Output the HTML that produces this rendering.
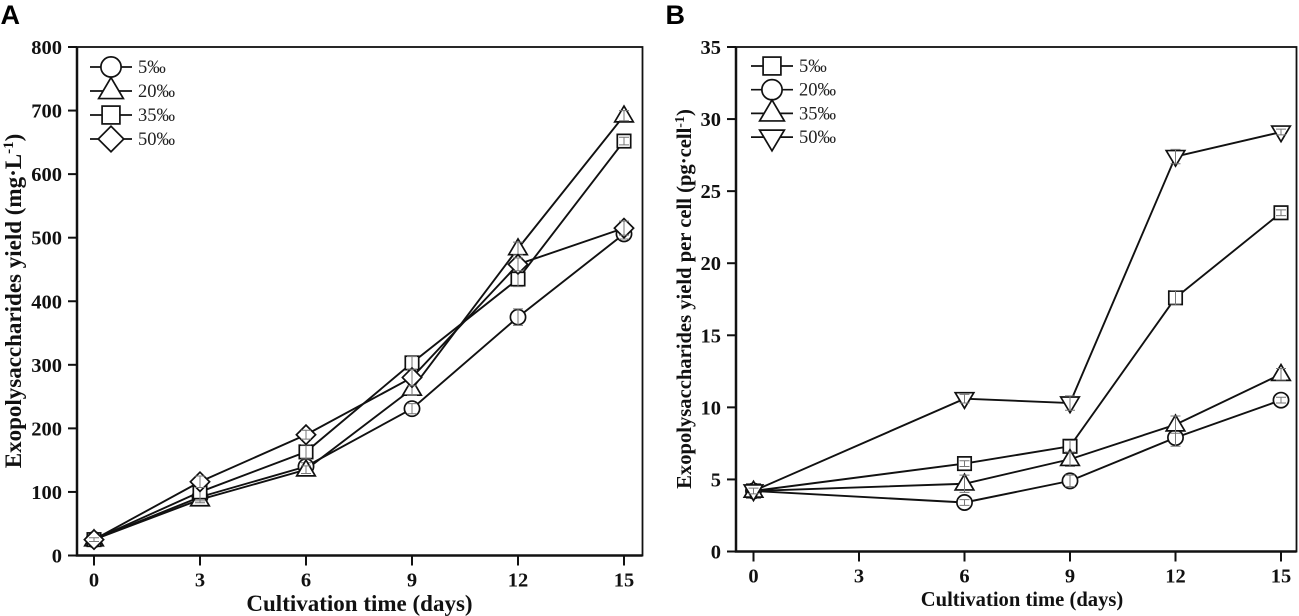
<!DOCTYPE html>
<html>
<head>
<meta charset="utf-8">
<title>Exopolysaccharides yield charts</title>
<style>
html,body{margin:0;padding:0;background:#fff;width:1299px;height:616px;overflow:hidden}
svg{display:block}
text{font-family:"Liberation Serif",serif;fill:#111}
.tick{font-size:20.5px;font-weight:bold}
.title{font-size:23px;font-weight:bold}
.titleb{font-size:20.6px;font-weight:bold}
.leg{font-size:18.5px;fill:#222}
.letter{font-family:"Liberation Sans",sans-serif;font-size:27px;font-weight:bold;fill:#000}
</style>
</head>
<body>
<svg id="fig" width="1299" height="616" viewBox="0 0 1299 616" xmlns="http://www.w3.org/2000/svg">
<text class="letter" x="0.5" y="24">A</text>
<text class="letter" x="665.5" y="24">B</text>
<text class="title" x="359.5" y="611" text-anchor="middle">Cultivation time (days)</text>
<text class="title" transform="translate(21,301) rotate(-90)" text-anchor="middle">Exopolysaccharides yield (mg·L<tspan dy="-8" font-size="15">-1</tspan><tspan dy="8">)</tspan></text>
<text class="titleb" x="1022" y="606" text-anchor="middle">Cultivation time (days)</text>
<text class="titleb" transform="translate(691,299) rotate(-90)" text-anchor="middle">Exopolysaccharides yield per cell (pg·cell<tspan dy="-7" font-size="14">-1</tspan><tspan dy="7">)</tspan></text>
</svg>
<script>
// Panel A data
const daysA = [0, 3, 6, 9, 12, 15];
const salinityA = ['5‰', '20‰', '35‰', '50‰'];
const a5 = [25, 92, 140, 231, 375, 506];
const a20 = [25, 88, 135, 262, 483, 692];
const a35 = [25, 100, 163, 303, 435, 652];
const a50 = [25, 116, 190, 280, 458, 515];
const a5err = [3, 6, 6, 8, 13, 8];
const a20err = [3, 5, 6, 10, 10, 8];
const a35err = [3, 14, 11, 10, 12, 6];
const a50err = [3, 9, 7, 13, 10, 11];
const yTicksA = [0, 100, 200, 300, 400, 500, 600, 700, 800];
const xTicks = [0, 3, 6, 9, 12, 15];
// Panel B data
const daysB = [0, 6, 9, 12, 15];
const salinityB = ['5‰', '20‰', '35‰', '50‰'];
const b5 = [4.2, 6.1, 7.3, 17.6, 23.5];
const b20 = [4.2, 3.4, 4.9, 7.9, 10.5];
const b35 = [4.2, 4.7, 6.4, 8.8, 12.3];
const b50 = [4.2, 10.6, 10.3, 27.4, 29.1];
const b5err = [0.2, 0.2, 0.4, 0.5, 0.2];
const b20err = [0.2, 0.2, 0.4, 0.6, 0.2];
const b35err = [0.2, 0.6, 0.5, 0.6, 0.4];
const b50err = [0.2, 0.3, 0.5, 0.5, 0.2];
const yTicksB = [0, 5, 10, 15, 20, 25, 30, 35];

const NS = 'http://www.w3.org/2000/svg';
const fig = document.getElementById('fig');

function mk(tag, attrs, parent) {
  const e = document.createElementNS(NS, tag);
  for (const k in attrs) e.setAttribute(k, attrs[k]);
  parent.appendChild(e);
  return e;
}

function marker(parent, kind, cx, cy, s) {
  const st = {fill: '#fff', stroke: '#111', 'stroke-width': 1.7, 'stroke-linejoin': 'miter'};
  let e;
  if (kind === 'circle') {
    e = mk('circle', Object.assign({cx: cx, cy: cy, r: 7.6 * s}, st), parent);
  } else if (kind === 'square') {
    const h = 6.7 * s;
    e = mk('rect', Object.assign({x: cx - h, y: cy - h, width: 2 * h, height: 2 * h}, st), parent);
  } else if (kind === 'triangle') {
    const w = 9.3 * s, u = 9.6 * s, d = 6.2 * s;
    e = mk('polygon', Object.assign({points: [cx, cy - u, cx + w, cy + d, cx - w, cy + d].join(' ')}, st), parent);
  } else if (kind === 'down') {
    const w = 9.3 * s, u = 9.6 * s, d = 6 * s;
    e = mk('polygon', Object.assign({points: [cx, cy + u, cx + w, cy - d, cx - w, cy - d].join(' ')}, st), parent);
  } else {
    const r = 9.6 * s;
    e = mk('polygon', Object.assign({points: [cx, cy - r, cx + r, cy, cx, cy + r, cx - r, cy].join(' ')}, st), parent);
  }
  return e;
}

function drawPanel(p) {
  const root = mk('g', {}, fig);
  
  
  const sx = function (v) { return p.x0 + (v / 15) * (p.x15 - p.x0); };
  const sy = function (v) { return p.yBase - (v / p.yMax) * (p.yBase - p.yTop); };

  const axes = mk('g', {stroke: '#111', 'stroke-width': 2, fill: 'none'}, root);
  
  
  const frame = mk('rect', {x: p.left, y: p.yTop, width: p.right - p.left, height: p.yBase - p.yTop, 'stroke-width': 1.8}, axes);
  
  
  const spine = mk('path', {d: 'M' + p.left + ' ' + p.yTop + 'V' + p.yBase + 'H' + p.right, 'stroke-width': 2.5}, axes);
  
  

  p.yTicks.forEach(function (t) {
    const ln = mk('line', {x1: p.left - 9, x2: p.left, y1: sy(t), y2: sy(t)}, axes);
    
    
    const tx = mk('text', {class: 'tick', x: p.left - 15, y: sy(t) + 7, 'text-anchor': 'end'}, root);
    
    
    tx.textContent = t;
  });
  xTicks.forEach(function (t) {
    const ln = mk('line', {x1: sx(t), x2: sx(t), y1: p.yBase, y2: p.yBase + 10}, axes);
    
    
    const tx = mk('text', {class: 'tick', x: sx(t), y: p.yBase + 31, 'text-anchor': 'middle'}, root);
    
    
    tx.textContent = t;
  });

  p.series.forEach(function (s, si) {
    const g = mk('g', {}, root);
    
    
    const pts = s.values.map(function (v, i) { return sx(p.days[i]) + ',' + sy(v); }).join(' ');
    const line = mk('polyline', {points: pts, fill: 'none', stroke: '#111', 'stroke-width': 1.9}, g);
    
    
  });
  p.series.forEach(function (s, si) {
    const g = mk('g', {}, root);
    
    
    s.values.forEach(function (v, i) {
      const cx = sx(p.days[i]), cy = sy(v);
      const m = marker(g, s.kind, cx, cy, 1);
      
      
      const hi = sy(v + s.err[i]), lo = sy(v - s.err[i]);
      const eb = mk('path', {d: 'M' + (cx - 5) + ' ' + hi + 'H' + (cx + 5) + 'M' + (cx - 5) + ' ' + lo + 'H' + (cx + 5) + 'M' + cx + ' ' + hi + 'V' + lo, stroke: '#777', 'stroke-width': 1, fill: 'none'}, g);
      
      
    });
  });

  const legend = mk('g', {}, root);
  
  
  p.series.forEach(function (s, i) {
    const y = p.legY + i * p.legStep;
    const g = mk('g', {}, legend);
    
    
    mk('line', {x1: p.legX - 21, x2: p.legX + 21, y1: y, y2: y, stroke: '#111', 'stroke-width': 1.7}, g);
    const shift = s.kind === 'triangle' ? -0.7 : (s.kind === 'down' ? 1 : 0);
    marker(g, s.kind, p.legX, y + shift, 1.33);
    const tx = mk('text', {class: 'leg', x: p.legX + 27, y: y + 6}, g);
    
    
    tx.textContent = s.label;
  });
}

drawPanel({
  id: 'panel-a', left: 77, right: 642.5, yTop: 47, yBase: 555.5, yMax: 800,
  x0: 94, x15: 624, days: daysA, yTicks: yTicksA, legX: 111, legY: 67, legStep: 24,
  series: [
    {kind: 'circle', label: salinityA[0], values: a5, err: a5err},
    {kind: 'triangle', label: salinityA[1], values: a20, err: a20err},
    {kind: 'square', label: salinityA[2], values: a35, err: a35err},
    {kind: 'diamond', label: salinityA[3], values: a50, err: a50err}
  ]
});
drawPanel({
  id: 'panel-b', left: 736, right: 1296.5, yTop: 47, yBase: 551.5, yMax: 35,
  x0: 753.5, x15: 1281, days: daysB, yTicks: yTicksB, legX: 772, legY: 66, legStep: 23.7,
  series: [
    {kind: 'square', label: salinityB[0], values: b5, err: b5err},
    {kind: 'circle', label: salinityB[1], values: b20, err: b20err},
    {kind: 'triangle', label: salinityB[2], values: b35, err: b35err},
    {kind: 'down', label: salinityB[3], values: b50, err: b50err}
  ]
});
</script>
</body>
</html>
